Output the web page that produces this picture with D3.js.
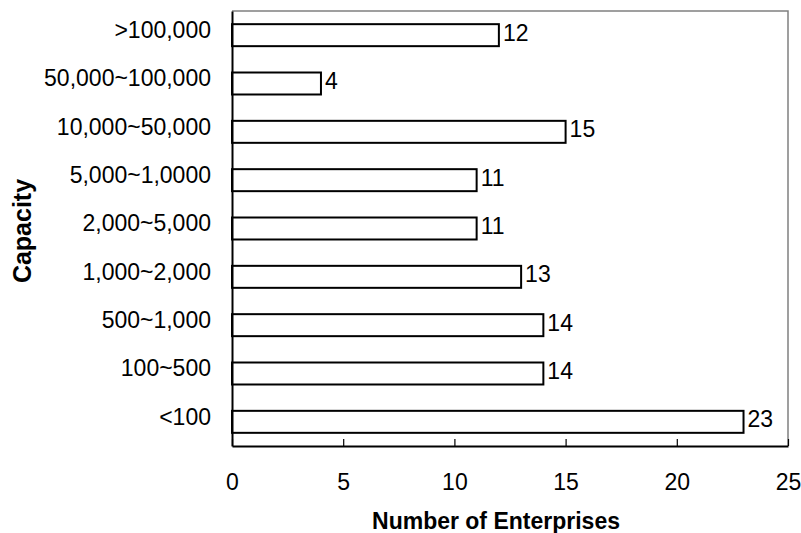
<!DOCTYPE html>
<html>
<head>
<meta charset="utf-8">
<script src="https://d3js.org/d3.v7.min.js"></script>
<style>
  html, body { margin: 0; padding: 0; background: #fff; }
  svg { display: block; font-family: "Liberation Sans", Arial, sans-serif; }
</style>
</head>
<body>
<svg id="chart" width="801" height="533"></svg>
<script>
'use strict';

// ── Data ──────────────────────────────────────────────────
const categories = ['>100,000', '50,000~100,000', '10,000~50,000', '5,000~1,0000',
                    '2,000~5,000', '1,000~2,000', '500~1,000', '100~500', '<100'];
const enterprises = [12, 4, 15, 11, 11, 13, 14, 14, 23];
const xTicks = [0, 5, 10, 15, 20, 25];

// ── Layout ────────────────────────────────────────────────
const margin = { top: 11, right: 13, bottom: 87, left: 232 };
const W = 801, H = 533;
const iW = W - margin.left - margin.right;
const iH = H - margin.top - margin.bottom;

const svg = d3.select('#chart');
const g = svg.append('g').attr('transform', `translate(${margin.left},${margin.top})`);

const x = d3.scaleLinear().domain([0, 25]).range([0, iW]);
const y = d3.scaleBand().domain(categories).range([0, iH]).paddingInner(0.545).paddingOuter(0.2725);

// Frame (top/right)
g.append('path')
  .attr('d', `M0,0H${iW}V${iH}`)
  .attr('fill', 'none')
  .attr('stroke', '#808080')
  .attr('stroke-width', 1.5);

// Bars
g.selectAll('rect.bar')
  .data(enterprises)
  .join('rect')
  .attr('class', 'bar')
  .attr('x', 0)
  .attr('y', (d, i) => y(categories[i]))
  .attr('width', d => x(d))
  .attr('height', y.bandwidth())
  .attr('fill', '#fff')
  .attr('stroke', '#000')
  .attr('stroke-width', 2);

// Value labels
g.selectAll('text.val')
  .data(enterprises)
  .join('text')
  .attr('class', 'val')
  .attr('x', d => x(d) + 4)
  .attr('y', (d, i) => y(categories[i]) + y.bandwidth() / 2)
  .attr('dy', '0.24em')
  .attr('font-size', 23)
  .attr('fill', '#000')
  .text(d => d);

// X axis (ticks point inward)
const xAxis = g.append('g')
  .attr('transform', `translate(0,${iH})`)
  .call(d3.axisBottom(x).tickValues(xTicks).tickSize(-7).tickSizeOuter(0));
xAxis.select('.domain').attr('stroke', '#000').attr('stroke-width', 2);
xAxis.selectAll('.tick line').attr('stroke', '#000').attr('stroke-width', 1.2);
xAxis.selectAll('.tick text')
  .attr('y', 44).attr('dy', null)
  .attr('font-size', 23).attr('fill', '#000');

// Y axis
const yAxis = g.append('g')
  .call(d3.axisLeft(y).tickSize(0).tickPadding(21).tickSizeOuter(0));
yAxis.select('.domain').attr('stroke', '#000').attr('stroke-width', 2);
yAxis.selectAll('.tick text')
  .attr('dy', '0.12em')
  .attr('font-size', 23).attr('fill', '#000');

// Axis titles
svg.append('text')
  .attr('x', 496)
  .attr('y', 529)
  .attr('text-anchor', 'middle')
  .attr('font-size', 23)
  .attr('font-weight', 'bold')
  .text('Number of Enterprises');

svg.append('text')
  .attr('transform', `translate(31,231) rotate(-90)`)
  .attr('text-anchor', 'middle')
  .attr('font-size', 25)
  .attr('font-weight', 'bold')
  .text('Capacity');
</script>
</body>
</html>
